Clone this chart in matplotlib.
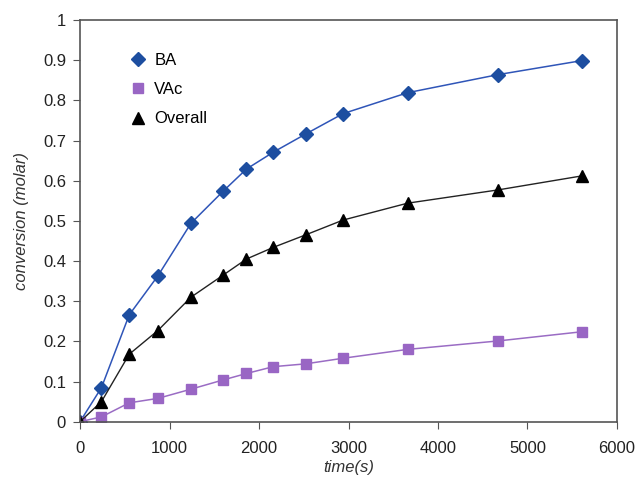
import matplotlib
matplotlib.use("Agg")
import matplotlib.pyplot as plt
from matplotlib.ticker import FuncFormatter

plt.rcParams['font.family'] = ['Liberation Sans', 'DejaVu Sans']
plt.rcParams['font.size'] = 12

# sampling times (s)
time_s = [0, 240, 550, 870, 1240, 1600, 1860, 2160, 2520, 2940, 3660, 4670, 5610]

ba = [0, 0.085, 0.266, 0.363, 0.494, 0.574, 0.629, 0.671, 0.716, 0.767, 0.819, 0.864, 0.899]
vac = [0, 0.012, 0.047, 0.058, 0.081, 0.104, 0.120, 0.137, 0.144, 0.158, 0.180, 0.201, 0.224]
overall = [0, 0.050, 0.168, 0.227, 0.310, 0.365, 0.405, 0.434, 0.465, 0.502, 0.544, 0.577, 0.612]

fig = plt.figure(figsize=(6.37, 4.82), dpi=100)
ax = fig.add_axes([0.1256, 0.1251, 0.843, 0.8334])

ax.plot(time_s, ba, color='#2f55b8', linewidth=1.1, marker='D', markersize=7,
        markerfacecolor='#1d4ea0', markeredgecolor='#1d4ea0', label='BA')
ax.plot(time_s, vac, color='#9a6cc4', linewidth=1.1, marker='s', markersize=7.5,
        markerfacecolor='#9966c4', markeredgecolor='#9966c4', label='VAc')
ax.plot(time_s, overall, color='#222222', linewidth=1.0, marker='^', markersize=8.5,
        markerfacecolor='black', markeredgecolor='black', label='Overall')

ax.set_xlim(0, 6000)
ax.set_ylim(0, 1)
ax.set_xticks(range(0, 6001, 1000))
ax.set_yticks([i / 10 for i in range(11)])
ax.yaxis.set_major_formatter(FuncFormatter(lambda v, p: f'{v:g}'))

for s in ax.spines.values():
    s.set_color('#555555')
    s.set_linewidth(1.2)
ax.tick_params(direction='out', length=5, color='#555555', labelcolor='#222222',
               labelsize=12, top=False, right=False)
ax.tick_params(axis='x', pad=9)
ax.tick_params(axis='y', pad=5)

ax.set_xlabel('time(s)', fontstyle='italic', fontsize=12, color='#333333', labelpad=3)
ax.set_ylabel('conversion (molar)', fontstyle='italic', fontsize=12, color='#333333', labelpad=10)

# legend: markers only
leg = ax.legend(loc='upper left', bbox_to_anchor=(0.07, 0.955), frameon=False,
                handlelength=0.6, handletextpad=0.7, labelspacing=0.85, fontsize=12)
for line in leg.get_lines():
    line.set_linestyle('')

fig.savefig('out.png', dpi=100, facecolor='white')
